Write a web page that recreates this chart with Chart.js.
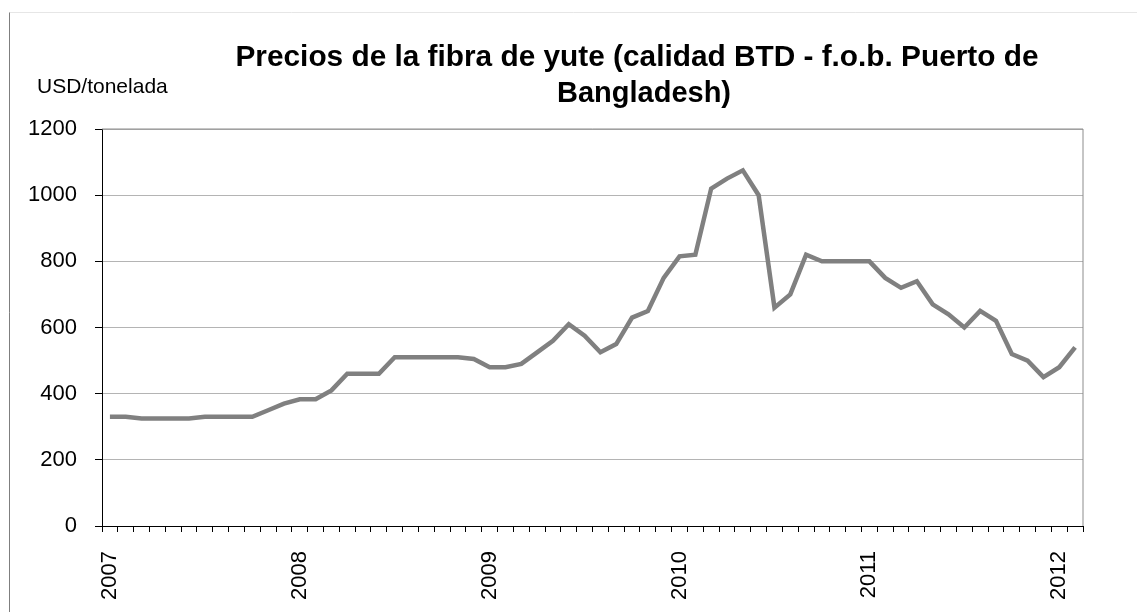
<!DOCTYPE html>
<html>
<head>
<meta charset="utf-8">
<script src="https://cdn.jsdelivr.net/npm/chart.js@4"></script>
<style>
  body { margin: 0; background: #fff; }
  #wrap { width: 1137px; height: 612px; }
</style>
</head>
<body>
<div id="wrap"><canvas id="chart" width="1137" height="612"></canvas></div>
<script>
// data (USD per tonne, monthly, Jan 2007 - Feb 2012)
var years = ["2007", "2008", "2009", "2010", "2011", "2012"];
var months = ["ene", "feb", "mar", "abr", "may", "jun", "jul", "ago", "sep", "oct", "nov", "dic"];
var prices = [
  330, 330, 325, 325, 325, 325, 330, 330, 330, 330, 350, 370,   // 2007
  383, 383, 410, 460, 460, 460, 510, 510, 510, 510, 510, 505,   // 2008
  480, 480, 490, 525, 560, 610, 575, 525, 550, 630, 650, 750,   // 2009
  815, 820, 1020, 1050, 1075, 1000, 660, 700, 820, 800, 800, 800, // 2010
  800, 750, 720, 740, 670, 640, 600, 650, 620, 520, 500, 450,   // 2011
  480, 540                                                     // 2012
];
var yTicks = [0, 200, 400, 600, 800, 1000, 1200];

var titleLines = ["Precios de la fibra de yute (calidad BTD - f.o.b. Puerto de", "Bangladesh)"];
var unitLabel = "USD/tonelada";

// category labels, one per month
var labels = [];
for (var i = 0; i < prices.length; i++) {
  labels.push(months[i % 12] + " " + years[Math.floor(i / 12)]);
}

var FONT = '"Liberation Sans", Arial, sans-serif';

// frame, title and unit text, plus the plot border on top/right
var decor = {
  id: "decor",
  beforeDraw: function (chart) {
    var c = chart.ctx;
    c.save();
    c.fillStyle = "#fff";
    c.fillRect(0, 0, chart.width, chart.height);
    c.strokeStyle = "#e6e6e6";
    c.lineWidth = 1;
    c.beginPath();
    c.moveTo(9.5, 12.5);
    c.lineTo(chart.width, 12.5);
    c.stroke();
    c.strokeStyle = "#7f7f7f";
    c.beginPath();
    c.moveTo(9.5, 12.5);
    c.lineTo(9.5, chart.height);
    c.stroke();
    c.restore();
  },
  afterDraw: function (chart) {
    var c = chart.ctx;
    var a = chart.chartArea;
    c.save();
    c.strokeStyle = "#8c8c8c";
    c.lineWidth = 1;
    c.beginPath();
    c.moveTo(a.left, a.top);
    c.lineTo(a.right, a.top);
    c.lineTo(a.right, a.bottom);
    c.stroke();

    c.fillStyle = "#000";
    c.textBaseline = "alphabetic";
    c.textAlign = "center";
    c.font = "bold 29.8px " + FONT;
    c.fillText(titleLines[0], 637, 66);
    c.font = "bold 29px " + FONT;
    c.fillText(titleLines[1], 644, 102);

    c.textAlign = "left";
    c.font = "21px " + FONT;
    c.fillText(unitLabel, 37, 93);
    c.restore();
  }
};

new Chart(document.getElementById("chart"), {
  type: "line",
  data: {
    labels: labels,
    datasets: [
      {
        data: prices,
        borderColor: "#808080",
        borderWidth: 4.5,
        pointRadius: 0,
        tension: 0,
        fill: false,
      },
    ],
  },
  options: {
    responsive: false,
    animation: false,
    layout: {
      padding: { left: 0, right: 54, top: 129, bottom: 0 },
    },
    plugins: {
      legend: { display: false },
      title: { display: false },
      tooltip: { enabled: false },
    },
    scales: {
      x: {
        type: "category",
        offset: true,
        afterFit: function (scale) {
          scale.height = 86;
        },
        border: { color: "#000", width: 1 },
        grid: {
          offset: true,
          drawOnChartArea: false,
          drawTicks: true,
          tickLength: 6,
          tickColor: "#000",
        },
        ticks: {
          autoSkip: false,
          maxRotation: 90,
          minRotation: 90,
          padding: 19,
          color: "#000",
          font: { family: FONT, size: 22 },
          callback: function (v, i) {
            return i % 12 === 0 ? years[i / 12] : "";
          },
        },
      },
      y: {
        min: yTicks[0],
        max: yTicks[yTicks.length - 1],
        afterFit: function (scale) {
          scale.width = 102;
        },
        afterBuildTicks: function (scale) {
          scale.ticks = yTicks.map(function (v) { return { value: v }; });
        },
        border: { color: "#000", width: 1 },
        grid: {
          color: "#b4b4b4",
          tickLength: 7,
          tickColor: "#000",
        },
        ticks: {
          padding: 18,
          color: "#000",
          font: { family: FONT, size: 22 },
          callback: function (v) {
            return String(v);
          },
        },
      },
    },
  },
  plugins: [decor],
});
</script>
</body>
</html>
